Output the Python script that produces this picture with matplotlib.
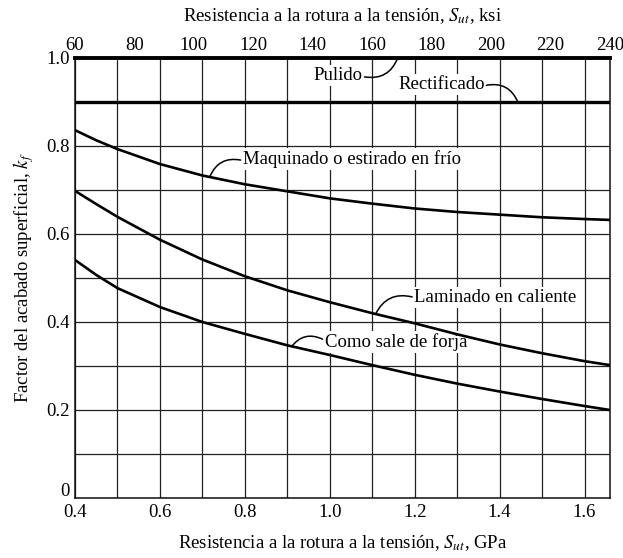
import numpy as np
import matplotlib
matplotlib.use("Agg")
import matplotlib.pyplot as plt
from matplotlib.ticker import MultipleLocator
import matplotlib.transforms as mtransforms

plt.rcParams['font.family'] = ['Liberation Serif', 'DejaVu Serif']
plt.rcParams['mathtext.fontset'] = 'stix'

# Data (Sut in GPa, surface factor k_f)
sut_gpa = [0.4, 0.45, 0.5, 0.6, 0.7, 0.8, 0.9, 1.0, 1.1, 1.2, 1.3, 1.4, 1.5, 1.6, 1.66]
pulido = [1.0] * len(sut_gpa)
rectificado = [0.9] * len(sut_gpa)
maquinado = [0.836, 0.813, 0.793, 0.759, 0.733, 0.713, 0.697, 0.681, 0.669, 0.658, 0.650, 0.644, 0.638, 0.634, 0.632]
laminado = [0.698, 0.668, 0.639, 0.587, 0.542, 0.504, 0.472, 0.445, 0.420, 0.397, 0.372, 0.349, 0.329, 0.311, 0.302]
forja = [0.541, 0.507, 0.477, 0.434, 0.400, 0.373, 0.347, 0.325, 0.302, 0.280, 0.260, 0.242, 0.225, 0.209, 0.200]

x_ticks = [0.4, 0.6, 0.8, 1.0, 1.2, 1.4, 1.6]
x_ticklabels = ["0.4", "0.6", "0.8", "1.0", "1.2", "1.4", "1.6"]
y_ticks = [0, 0.2, 0.4, 0.6, 0.8, 1.0]
y_ticklabels = ["0", "0.2", "0.4", "0.6", "0.8", "1.0"]
ksi_ticks = [60, 80, 100, 120, 140, 160, 180, 200, 220, 240]

fig = plt.figure(figsize=(6.23, 5.58), dpi=100)
ax = fig.add_axes([75/623, 60/558, (610-75)/623, (498-58)/558])

ax.set_xlim(0.4, 1.66)
ax.set_ylim(0, 1.0)
ax.set_xticks(x_ticks)
ax.set_xticklabels(x_ticklabels)
ax.set_yticks(y_ticks)
ax.set_yticklabels(y_ticklabels)
ax.xaxis.set_minor_locator(MultipleLocator(0.1))
ax.yaxis.set_minor_locator(MultipleLocator(0.1))
ax.grid(True, which='both', color='#222222', lw=0.9)
ax.tick_params(which='both', length=0, labelsize=13.5, pad=4)
for s in ax.spines.values():
    s.set_linewidth(1.1)
    s.set_color('#111111')

# raise the "0" label on the y axis
lbl0 = ax.get_yticklabels()[0]
lbl0.set_transform(lbl0.get_transform() + mtransforms.ScaledTranslation(0, 8/100, fig.dpi_scale_trans))

lw = 1.9
ax.plot(sut_gpa, pulido, color='black', lw=2.8, clip_on=False, zorder=8)
ax.plot(sut_gpa, rectificado, color='black', lw=2.4, zorder=8)
ax.plot(sut_gpa, maquinado, color='black', lw=lw, zorder=8)
ax.plot(sut_gpa, laminado, color='black', lw=lw, zorder=8)
ax.plot(sut_gpa, forja, color='black', lw=lw, zorder=8)

fs = 13.5
ap = dict(arrowstyle='-', color='black', lw=1.1, shrinkA=0, shrinkB=0)

def leader(start, end, rad):
    ax.annotate("", xy=end, xytext=start, zorder=7,
                arrowprops=dict(ap, connectionstyle=f'arc3,rad={rad}'))

tb = dict(boxstyle='square,pad=0.1', fc='white', ec='none')
# Pulido
ax.text(1.078, 0.960, "Pulido", ha='right', va='center', fontsize=fs, zorder=6, bbox=tb)
leader((1.082, 0.957), (1.160, 1.0), 0.4)
# Rectificado
ax.text(1.365, 0.940, "Rectificado", ha='right', va='center', fontsize=fs, zorder=6, bbox=tb)
leader((1.369, 0.938), (1.443, 0.9), -0.4)
# Maquinado
ax.text(0.795, 0.771, "Maquinado o estirado en frío", ha='left', va='center', fontsize=fs, zorder=6, bbox=tb)
leader((0.790, 0.768), (0.718, 0.731), 0.4)
# Laminado
ax.text(1.198, 0.455, "Laminado en caliente", ha='left', va='center', fontsize=fs, zorder=6, bbox=tb)
leader((1.194, 0.457), (1.108, 0.418), 0.4)
# Como sale de forja
ax.text(0.988, 0.355, "Como sale de forja", ha='left', va='center', fontsize=fs, zorder=6, bbox=tb)
leader((0.983, 0.361), (0.910, 0.344), 0.4)

ax.set_xlabel("Resistencia a la rotura a la tensión, $S_{ut}$, GPa", fontsize=13.5, labelpad=9)
ax.set_ylabel("Factor del acabado superficial, $k_f$", fontsize=13.5, labelpad=7)

ax2 = ax.twiny()
ax2.set_xlim(60, 240)
ax2.set_xticks(ksi_ticks)
ax2.tick_params(length=0, labelsize=13.5, pad=3)
ax2.set_xlabel("Resistencia a la rotura a la tensión, $S_{ut}$, ksi", fontsize=13.5, labelpad=11)
for s in ax2.spines.values():
    s.set_visible(False)

fig.savefig("out.png", dpi=100)
